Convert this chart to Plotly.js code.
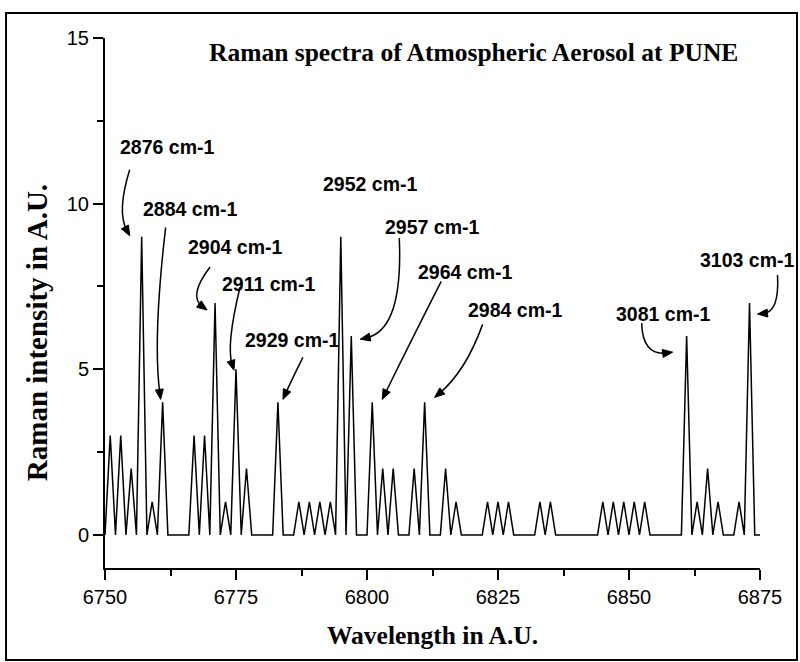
<!DOCTYPE html>
<html>
<head>
<meta charset="utf-8">
<script src="https://cdn.plot.ly/plotly-3.0.1.min.js"></script>
<style>html,body{margin:0;padding:0;background:#fff;}#chart{width:800px;height:662px;}</style>
</head>
<body>
<div id="chart"></div>
<script>
// ---- data ----
const wavelength = [
 6750,6751,6752,6753,6754,6755,6756,6757,6758,6759,6760,6761,6762,6763,6764,6765,6766,6767,6768,6769,
 6770,6771,6772,6773,6774,6775,6776,6777,6778,6779,6780,6781,6782,6783,6784,6785,6786,6787,6788,6789,
 6790,6791,6792,6793,6794,6795,6796,6797,6798,6799,6800,6801,6802,6803,6804,6805,6806,6807,6808,6809,
 6810,6811,6812,6813,6814,6815,6816,6817,6818,6819,6820,6821,6822,6823,6824,6825,6826,6827,6828,6829,
 6830,6831,6832,6833,6834,6835,6836,6837,6838,6839,6840,6841,6842,6843,6844,6845,6846,6847,6848,6849,
 6850,6851,6852,6853,6854,6855,6856,6857,6858,6859,6860,6861,6862,6863,6864,6865,6866,6867,6868,6869,
 6870,6871,6872,6873,6874,6875];
const intensity = [
 0,3,0,3,0,2,0,9,0,1,0,4,0,0,0,0,0,3,0,3,
 0,7,0,1,0,5,0,2,0,0,0,0,0,4,0,0,0,1,0,1,
 0,1,0,1,0,9,0,6,0,0,0,4,0,2,0,2,0,0,0,2,
 0,4,0,0,0,2,0,1,0,0,0,0,0,1,0,1,0,1,0,0,
 0,0,0,1,0,1,0,0,0,0,0,0,0,0,0,1,0,1,0,1,
 0,1,0,1,0,0,0,0,0,0,0,6,0,1,0,2,0,1,0,0,
 0,1,0,7,0,0];
const peakLabels = ['2876 cm-1','2884 cm-1','2904 cm-1','2911 cm-1','2929 cm-1','2952 cm-1',
                    '2957 cm-1','2964 cm-1','2984 cm-1','3081 cm-1','3103 cm-1'];
const peakWavelength = [6757,6761,6771,6775,6783,6795,6797,6801,6811,6861,6873];
const xTickVals = [6750,6775,6800,6825,6850,6875];
const yTickVals = [0,5,10,15];
const chartTitle = 'Raman spectra of Atmospheric Aerosol at PUNE';
const xTitle = 'Wavelength in A.U.';
const yTitle = 'Raman intensity in A.U.';

// ---- layout decoration (pixel offsets from each peak, screen y down) ----
const textOffset = [[25,-90],[27,-193],[20,-56],[32,-85],[14,-62],[29,-53],[81,-109],[93,-130],[90,-92],[-24,-22],[-3,-43]];
// curve: [start, control, end] ; null = no arrow
const arrowCurve = [
 [[-12,-67],[-25,-25],[-12,-1]],
 [[3,-175],[-10,-63],[-2,-3]],
 [[-5,-36],[-27,-7],[-8,7]],
 [[4,-82],[-10,-24],[-2,1]],
 [[25,-45],[14,-23],[5,-3]],
 null,
 [[48,-98],[52,-6],[9,3]],
 [[69,-121],[39,-62],[10,-3]],
 [[58,-78],[41,-31],[10,-5]],
 [[-45,-13],[-44,20],[-14,16]],
 [[28,-28],[30,9],[8,11]]
];

const xRange = [6750, 6875];
const yRange = [-1, 15];

const valueAt = w => intensity[wavelength.indexOf(w)];

const annotations = [];
const shapes = [];
const labelFont = {family: 'Liberation Sans, Arial, sans-serif', size: 19.5, color: '#000', weight: 'bold'};

peakLabels.forEach((lab, i) => {
  const px = peakWavelength[i], py = valueAt(px);
  annotations.push({
    x: px, y: py, xref: 'x', yref: 'y', text: lab, showarrow: false,
    xshift: textOffset[i][0], yshift: -textOffset[i][1],
    xanchor: 'center', yanchor: 'middle', font: labelFont
  });
  const c = arrowCurve[i];
  if (!c) return;
  const ax = (px - xRange[0]) / (xRange[1] - xRange[0]);
  const ay = (py - yRange[0]) / (yRange[1] - yRange[0]);
  const [s, k, e] = c;
  // arrowhead
  let dx = e[0] - k[0], dy = e[1] - k[1];
  const L = Math.hypot(dx, dy); dx /= L; dy /= L;
  const hl = 10, hw = 4;
  const bx = e[0] - dx * hl, by = e[1] - dy * hl;
  const p1 = [bx - dy * hw, by + dx * hw], p2 = [bx + dy * hw, by - dx * hw];
  const f = v => v.toFixed(2);
  const lineEnd = [e[0] - dx * 6, e[1] - dy * 6];
  shapes.push({
    type: 'path', xref: 'paper', yref: 'paper', xsizemode: 'pixel', ysizemode: 'pixel',
    xanchor: ax, yanchor: ay,
    path: `M ${f(s[0])} ${f(-s[1])} Q ${f(k[0])} ${f(-k[1])} ${f(lineEnd[0])} ${f(-lineEnd[1])}`,
    line: {color: '#000', width: 1.5}
  });
  shapes.push({
    type: 'path', xref: 'paper', yref: 'paper', xsizemode: 'pixel', ysizemode: 'pixel',
    xanchor: ax, yanchor: ay,
    path: `M ${f(e[0])} ${f(-e[1])} L ${f(p1[0])} ${f(-p1[1])} L ${f(p2[0])} ${f(-p2[1])} Z`,
    fillcolor: '#000', line: {color: '#000', width: 1}
  });
});

// titles
annotations.push({
  xref: 'paper', yref: 'paper', x: 0.562, y: 0.972, text: chartTitle, showarrow: false,
  xanchor: 'center', yanchor: 'middle',
  font: {family: 'Liberation Serif, Times New Roman, serif', size: 25.5, color: '#000', weight: 'bold'}
});
annotations.push({
  xref: 'paper', yref: 'paper', x: 0.5, y: -0.128, text: xTitle, showarrow: false,
  xanchor: 'center', yanchor: 'middle',
  font: {family: 'Liberation Serif, Times New Roman, serif', size: 25.5, color: '#000', weight: 'bold'}
});
annotations.push({
  xref: 'paper', yref: 'paper', x: -0.1038, y: 0.443, text: yTitle, showarrow: false,
  textangle: -90, xanchor: 'center', yanchor: 'middle',
  font: {family: 'Liberation Serif, Times New Roman, serif', size: 29, color: '#000', weight: 'bold'}
});

// outer frame
shapes.push({
  type: 'rect', xref: 'paper', yref: 'paper',
  x0: -0.1511, x1: 1.0565, y0: -0.1736, y1: 1.0472,
  line: {color: '#000', width: 2}, fillcolor: 'rgba(0,0,0,0)'
});

const trace = {
  x: wavelength, y: intensity, type: 'scatter', mode: 'lines',
  line: {color: '#000', width: 1.5}, hoverinfo: 'skip', cliponaxis: false
};

const tickFont = {family: 'Liberation Sans, Arial, sans-serif', size: 20, color: '#000'};

const layout = {
  width: 800, height: 662,
  margin: {l: 105, r: 40, t: 38, b: 94},
  paper_bgcolor: '#fff', plot_bgcolor: '#fff',
  showlegend: false,
  xaxis: {
    range: xRange, tickmode: 'array', tickvals: xTickVals, ticktext: xTickVals.map(String),
    ticks: 'outside', ticklen: 10, tickwidth: 2, tickcolor: '#000',
    showline: true, linewidth: 2, linecolor: '#000', mirror: false,
    showgrid: false, zeroline: false, tickfont: tickFont,
    minor: {tickmode: 'linear', tick0: 6762.5, dtick: 25, ticks: 'outside', ticklen: 6, tickwidth: 2, tickcolor: '#000', showgrid: false}
  },
  yaxis: {
    range: yRange, tickmode: 'array', tickvals: yTickVals, ticktext: yTickVals.map(String),
    ticks: 'outside', ticklen: 10, tickwidth: 2, tickcolor: '#000',
    showline: true, linewidth: 2, linecolor: '#000', mirror: false,
    showgrid: false, zeroline: false, tickfont: tickFont,
    minor: {tickmode: 'linear', tick0: 2.5, dtick: 5, ticks: 'outside', ticklen: 6, tickwidth: 2, tickcolor: '#000', showgrid: false}
  },
  annotations: annotations,
  shapes: shapes
};

Plotly.newPlot('chart', [trace], layout, {staticPlot: true, displayModeBar: false});
</script>
</body>
</html>
